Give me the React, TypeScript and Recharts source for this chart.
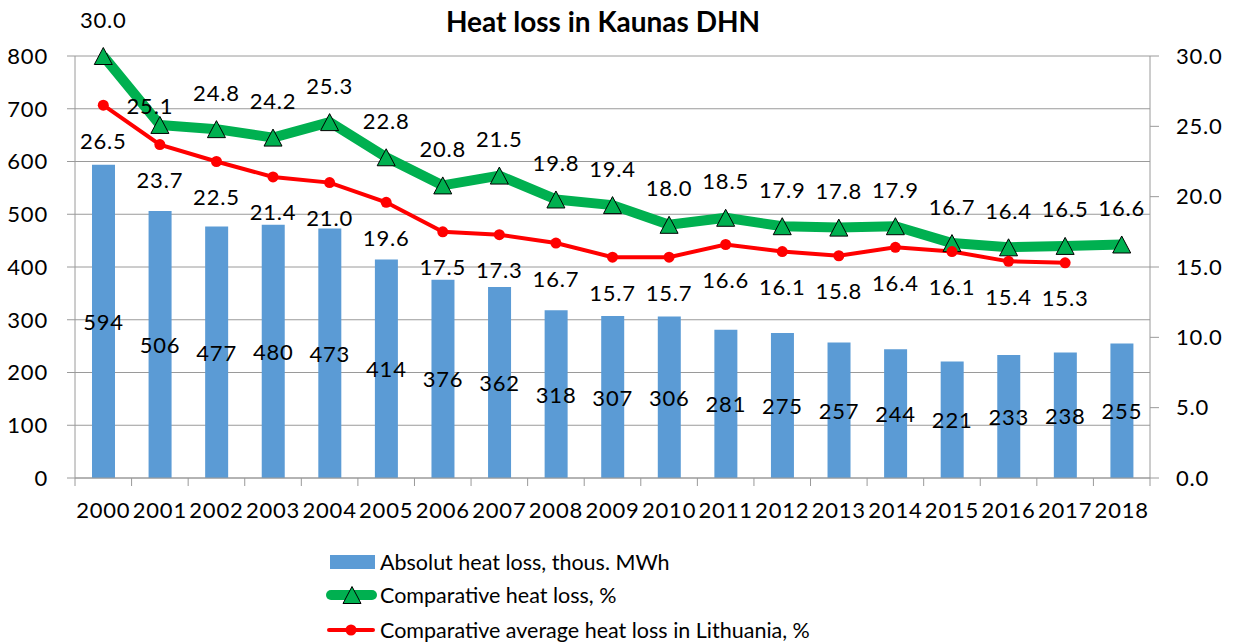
import React from 'react';
import {
  ComposedChart,
  Bar,
  Line,
  XAxis,
  YAxis,
  CartesianGrid,
  Legend,
  LabelList,
} from 'recharts';

const years = ['2000','2001','2002','2003','2004','2005','2006','2007','2008','2009','2010','2011','2012','2013','2014','2015','2016','2017','2018'];
const absoluteLoss = [594, 506, 477, 480, 473, 414, 376, 362, 318, 307, 306, 281, 275, 257, 244, 221, 233, 238, 255];
const comparativeLoss = [30.0, 25.1, 24.8, 24.2, 25.3, 22.8, 20.8, 21.5, 19.8, 19.4, 18.0, 18.5, 17.9, 17.8, 17.9, 16.7, 16.4, 16.5, 16.6];
const lithuaniaLoss: (number | null)[] = [26.5, 23.7, 22.5, 21.4, 21.0, 19.6, 17.5, 17.3, 16.7, 15.7, 15.7, 16.6, 16.1, 15.8, 16.4, 16.1, 15.4, 15.3, null];
const leftTicks = [0, 100, 200, 300, 400, 500, 600, 700, 800];
const rightTicks = [0, 5, 10, 15, 20, 25, 30];

const seriesNames = {
  abs: 'Absolut heat loss, thous. MWh',
  comp: 'Comparative heat loss, %',
  lt: 'Comparative average heat loss in Lithuania, %',
};

const data = years.map((y, i) => ({
  year: y,
  abs: absoluteLoss[i],
  comp: comparativeLoss[i],
  lt: lithuaniaLoss[i],
}));

const FONT = 'Lato, "Open Sans", sans-serif';
const BLUE = '#5B9BD5';
const GREEN = '#00B050';
const RED = '#FF0000';
const GRID = '#9a9a9a';
const TXT = { fontFamily: FONT, fontSize: 21.5, fill: '#000' };
const NUM = { fontFamily: FONT, fontSize: 22, fill: '#000', letterSpacing: 0.8 };

const XTick = (props: any) => {
  const { x, y, payload, index, visibleTicksCount } = props;
  const off = payload.offset || 0;
  return (
    <g>
      <line x1={x - off} x2={x - off} y1={y - 8} y2={y} stroke={GRID} />
      {index === visibleTicksCount - 1 ? (
        <line x1={x + off} x2={x + off} y1={y - 8} y2={y} stroke={GRID} />
      ) : null}
      <text x={x} y={y + 16} dy="0.71em" textAnchor="middle" {...NUM}>
        {payload.value}
      </text>
    </g>
  );
};

const Triangle = (props: any) => {
  const { cx, cy } = props;
  if (cx == null || cy == null) return null;
  const w = 18, h = 17;
  return (
    <path
      d={`M${cx},${cy - h / 2} L${cx + w / 2},${cy + h / 2} L${cx - w / 2},${cy + h / 2} Z`}
      fill={GREEN}
      stroke="#000"
      strokeWidth={1}
    />
  );
};

const RedDot = (props: any) => {
  const { cx, cy, value } = props;
  if (cx == null || cy == null || value == null) return null;
  return <circle cx={cx} cy={cy} r={5.5} fill={RED} />;
};

const GreenLabel = (props: any) => {
  const { x, y, value, index } = props;
  if (value == null) return null;
  const nudgeX = index === 1 ? -10 : 0;
  const nudgeY = index === 1 ? 18 : 0;
  return (
    <text x={x + nudgeX} y={y - 37 + nudgeY} textAnchor="middle" dominantBaseline="central" {...NUM}>
      {Number(value).toFixed(1)}
    </text>
  );
};

const RedLabel = (props: any) => {
  const { x, y, value } = props;
  if (value == null) return null;
  return (
    <text x={x} y={y + 35} textAnchor="middle" dominantBaseline="central" {...NUM}>
      {Number(value).toFixed(1)}
    </text>
  );
};

const BarLabel = (props: any) => {
  const { x, y, width, height, value } = props;
  return (
    <text x={x + width / 2} y={y + height / 2} textAnchor="middle" dominantBaseline="central" {...NUM}>
      {value}
    </text>
  );
};

const LegendContent = () => (
  <svg width={600} height={100} style={{ overflow: 'visible' }}>
    <rect x={4} y={10} width={45} height={14} fill={BLUE} />
    <text x={54} y={17} dominantBaseline="central" {...TXT}>{seriesNames.abs}</text>
    <line x1={5} x2={46} y1={50} y2={50} stroke={GREEN} strokeWidth={10} strokeLinecap="round" />
    <Triangle cx={26} cy={50} />
    <text x={54} y={50} dominantBaseline="central" {...TXT}>{seriesNames.comp}</text>
    <line x1={3} x2={47} y1={85} y2={85} stroke={RED} strokeWidth={4} strokeLinecap="round" />
    <circle cx={25} cy={85} r={5.5} fill={RED} />
    <text x={54} y={85} dominantBaseline="central" {...TXT}>{seriesNames.lt}</text>
  </svg>
);

export default function App() {
  return (
    <div style={{ position: 'absolute', left: 0, top: 0, width: 1241, height: 644, background: '#fff' }}>
      <div
        style={{
          position: 'absolute',
          left: 0,
          top: 5,
          width: 1206,
          textAlign: 'center',
          fontFamily: FONT,
          fontWeight: 700,
          fontSize: 28,
          lineHeight: 1.2,
          color: '#000',
          zIndex: 2,
        }}
      >
        Heat loss in Kaunas DHN
      </div>
      <ComposedChart
        width={1241}
        height={644}
        data={data}
        margin={{ top: 56, right: 0, bottom: 116, left: 0 }}
      >
        <CartesianGrid yAxisId="left" horizontal vertical={false} stroke={GRID} />
        <XAxis
          dataKey="year"
          height={50}
          stroke={GRID}
          tickLine={false}
          tickSize={8}
          tickMargin={0}
          interval={0}
          tick={<XTick />}
        />
        <YAxis
          yAxisId="left"
          orientation="left"
          width={75}
          domain={[0, 800]}
          ticks={leftTicks}
          stroke={GRID}
          tickSize={8}
          tickMargin={19}
          tick={NUM}
          interval={0}
        />
        <YAxis
          yAxisId="right"
          orientation="right"
          width={91}
          domain={[0, 30]}
          ticks={rightTicks}
          stroke={GRID}
          tickSize={9}
          tickMargin={17}
          tick={NUM}
          interval={0}
          tickFormatter={(v: number) => v.toFixed(1)}
        />
        <Legend
          layout="vertical"
          align="center"
          verticalAlign="middle"
          content={<LegendContent />}
          wrapperStyle={{ left: 326, top: 545, width: 600, height: 100 }}
        />
        <Bar
          yAxisId="left"
          dataKey="abs"
          name={seriesNames.abs}
          fill={BLUE}
          barSize={23}
          isAnimationActive={false}
        >
          <LabelList dataKey="abs" content={<BarLabel />} />
        </Bar>
        <Line
          yAxisId="right"
          dataKey="comp"
          name={seriesNames.comp}
          stroke={GREEN}
          strokeWidth={10}
          strokeLinejoin="round"
          dot={<Triangle />}
          activeDot={false}
          label={<GreenLabel />}
          isAnimationActive={false}
        />
        <Line
          yAxisId="right"
          dataKey="lt"
          name={seriesNames.lt}
          stroke={RED}
          strokeWidth={4}
          dot={<RedDot />}
          activeDot={false}
          label={<RedLabel />}
          isAnimationActive={false}
        />
      </ComposedChart>
    </div>
  );
}
